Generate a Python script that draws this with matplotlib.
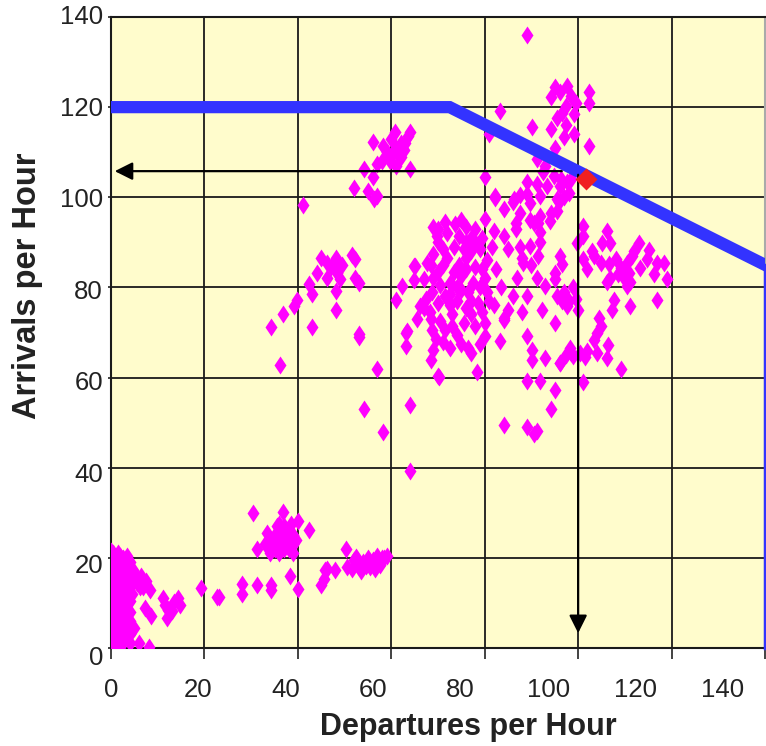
import numpy as np
import matplotlib
matplotlib.use('Agg')
import matplotlib.pyplot as plt
from matplotlib.transforms import offset_copy

plt.rcParams['font.family'] = ['Liberation Sans', 'DejaVu Sans']

# observed (departures, arrivals) per hour, grouped by cluster
corner = [(0, 1), (0, 4), (0, 7), (0, 10), (0, 13), (0, 16), (0, 19), (0, 21.5), (0.5, 2.5), (0.5, 8),
          (0.5, 12), (0.5, 18), (0.5, 21), (1, 0.5), (1, 5), (1, 9), (1, 14), (1, 17), (1, 20), (1.5, 3),
          (1.5, 11), (1.5, 15), (1.5, 21), (2, 1.5), (2, 6), (2, 9.5), (2, 13), (2, 18.5), (2.5, 4),
          (2.5, 12.5), (2.5, 20), (3, 2), (3, 7.5), (3, 15.5), (3, 17.5), (3.5, 10), (3.5, 14), (4, 1),
          (4, 16), (4.5, 12), (4.8, 17.3), (5.5, 14.5), (6, 1), (6.2, 13.5), (6.9, 13.6), (7.3, 8.8),
          (8.1, 0.3), (8.3, 12.9), (8.6, 7), (5, 4.5), (3, 3), (2, 0.2), (1, 11), (4, 19), (5.5, 15.5),
          (7.5, 14.8), (6.5, 16), (3.5, 5.5), (2.5, 8.5), (1.5, 6.5), (0.5, 15),
          (0, 2.5), (0, 5.5), (0, 8.5), (0, 11.5), (0, 14.5), (0, 17.5), (0, 20), (1, 2), (1, 3.5),
          (1, 6.5), (1, 12.5), (1, 15.5), (1, 18.5), (2, 3), (2, 4.5), (2, 7.5), (2, 11), (2, 15),
          (2, 16.5), (2, 20.5), (3, 5), (3, 9), (3, 11), (3, 13), (3, 19), (4, 3), (4, 6), (4, 8),
          (4, 10.5), (4, 13.5), (0.5, 5), (0.5, 10), (1.5, 9), (1.5, 13), (1.5, 17.5), (2.5, 14.5),
          (2.5, 17), (3.5, 2.5), (3.5, 20.5), (4.5, 15)]
bridge_low = [(11.2, 11), (12.3, 8.4), (14.4, 11), (14.8, 9.6), (11.9, 6.6), (13, 8.3), (11.5, 9.5),
              (13.5, 10.3), (19.2, 13.3), (22.6, 11.4), (23.1, 11.4), (28.1, 14.2), (28.1, 12),
              (31.2, 14), (34.2, 14), (34.2, 12.9), (38.4, 16), (40.1, 13)]
cluster_35 = [(30.3, 29.9), (36.9, 30.1), (40.1, 28.1), (42.3, 26.2), (31.2, 21.9), (33, 23), (34, 24),
              (35, 25), (36, 26), (37, 22), (38, 24), (39, 25), (36, 21), (37, 27), (38, 22), (35, 22),
              (39, 23), (34, 21), (37, 24), (38, 26), (36, 23), (39, 21), (35.5, 27), (38.5, 27.5),
              (33.5, 25.5), (34.5, 22.5), (36.5, 24.5), (37.5, 25.5), (35, 23.5), (38, 23), (39.5, 24),
              (36, 27.5)]
run_50 = [(44.9, 14), (45.6, 15.2), (46.2, 17.5), (48, 17.3), (45.9, 17.3), (50.3, 21.9), (50.5, 18),
          (51.5, 17.5), (52, 19.5), (53, 18), (54, 19), (55, 20), (55.5, 18), (56, 19.5), (57, 20.5),
          (57.5, 18.5), (58, 20), (59, 20.5), (53.5, 17), (56.5, 17.5), (54.5, 18.2), (52.5, 20.3),
          (58.4, 19.9)]
mid_left = [(45, 86.6), (46.2, 85.5), (48.2, 86.6), (51.6, 87.3), (52.3, 86.2), (44.1, 83.3), (46.2, 82.2),
            (48.3, 83.3), (49, 81.8), (52.3, 82.2), (53, 81), (48.2, 79.2), (42.3, 80.7), (43, 78.5),
            (39.8, 77.3), (39.1, 75.9), (36.9, 74.2), (34.2, 71.3), (43.1, 71.3), (48.2, 75.1), (53, 69.6),
            (36.1, 62.9), (53, 69), (56.9, 61.9), (54.2, 53.1), (58.2, 47.9), (64.1, 54), (64.1, 39.2),
            (63.1, 69.9), (63.1, 67.1), (69, 66.2), (70.1, 60.3), (65.1, 84.7), (67.6, 85.5), (64.9, 81.7),
            (67.1, 81.8), (62.3, 80.3), (61, 77.3), (63.4, 70.3), (66.9, 75.5), (69.8, 91.4), (64.8, 84.7),
            (66.2, 75.9), (65.5, 72.9), (68.4, 72.9), (47, 84.5), (49.5, 85)]
upper_60 = [(56.1, 112.2), (58.2, 111.4), (60.9, 114.4), (64.1, 114.4), (62, 112), (60.5, 110), (59.8, 108.1),
            (62.7, 110.5), (56.9, 107.3), (54.2, 106.3), (64.1, 106.3), (56.1, 104.4), (52.1, 102),
            (55.1, 101.4), (56.2, 99.6), (56.9, 100.3), (41, 98.3), (60, 113), (61, 111), (62, 109),
            (63, 112), (59, 110), (61, 107), (58, 108), (63.5, 113.5)]
core_75 = [(73.7, 94), (76, 93.5), (72, 92), (70, 90), (73.5, 89), (77, 91), (79, 88.5), (76, 86.5),
           (69, 87.5), (72, 86.5), (70, 83.5), (69, 82), (72.5, 81), (75, 82.5), (77.5, 81), (79.5, 84),
           (79, 80), (68.8, 79), (71.5, 78), (74, 77), (76.5, 79), (78.5, 76.5), (80.5, 79), (81, 77),
           (68.3, 74.5), (70.5, 72.5), (73, 74), (75.5, 72), (78, 71.5), (79.5, 74.5), (68.8, 70.5),
           (71.5, 70.5), (74, 69.5), (76.5, 66.5), (77, 65.5), (71, 68), (68.5, 63.8), (74.5, 85), (77, 88),
           (71, 85), (75, 79.5), (73, 80.5), (80, 82), (78, 90), (75, 95), (72.5, 76), (70.3, 60.2),
           (78.4, 61.2), (80.1, 69.2), (80.1, 95.1),
           (70, 93), (71.5, 94.5), (74.5, 91.5), (76, 90), (78, 93), (79.5, 91), (80.5, 86), (78, 84.5),
           (76, 84), (73.5, 83.5), (71, 88.5), (68.5, 85), (70.5, 80.5), (74, 80), (77, 77), (80, 72),
           (77, 74), (73, 71.5), (70, 76.5), (67.5, 77.5), (69.5, 68.5), (72.5, 66.5), (75, 67.5),
           (79, 67.5), (81.5, 89), (82, 92.5), (75.5, 88.5), (72.5, 78.5), (76, 75.5), (69, 93.5)]
band_90 = [(82.3, 100.3), (86.1, 99), (87.6, 100.5), (89.1, 100.7), (84.1, 97.3), (86.6, 94.4), (86.6, 92.9),
           (89.8, 95), (91.3, 94.4), (94, 94.7), (95.8, 98.9), (95.5, 97), (84.1, 91.4), (85, 88.5),
           (87.5, 88.9), (88, 86.5), (88.3, 85.5), (89.8, 89.2), (91.3, 87), (91.9, 92.2), (91.9, 90),
           (96.2, 87), (96.6, 85.1), (95.1, 83.3), (95.1, 81.8), (91.2, 82.2), (93, 80.3), (89.1, 78.2),
           (92.3, 75.1), (95.5, 78), (96.5, 77), (97.6, 75.9), (95.1, 72.2), (99.8, 89.9), (84.1, 73.3),
           (83.2, 68.1), (89.1, 69.2), (90.1, 66.2), (90.1, 64), (93, 64.4), (96.1, 63.3), (98.4, 65.5),
           (99, 64.7), (89.1, 59.2), (91.9, 59.2), (95.1, 57.3), (94.2, 53), (84.1, 49.5), (89.1, 49),
           (90.5, 47.5), (91.2, 48.2), (84.1, 72.8), (82.5, 84), (83.5, 80), (86, 78), (87, 82), (85, 75),
           (88, 74.5), (82, 76), (90, 85)]
upper_95 = [(89.1, 136), (83.2, 119.2), (95.1, 124.4), (94.1, 122.2), (96.2, 123.3), (97.6, 124.7),
            (98.4, 122.5), (97.3, 120.3), (96.6, 118.8), (95.5, 117.7), (94.1, 115.1), (96.9, 113.3),
            (99.1, 118.4), (99.1, 114), (90.1, 115.5), (80.9, 114), (102.3, 123.3), (102.3, 120.9),
            (102.3, 111.4), (80.1, 104.4), (82.3, 99.9), (86.2, 99.6), (87.6, 96.6), (89.8, 98.8),
            (89.1, 103.3), (91.2, 102.9), (91.9, 100.3), (93.4, 102.5), (94.8, 104.7), (96.2, 102.5),
            (97.6, 103.3), (98, 101), (95.5, 99.6), (94.1, 96.6), (91.9, 95.9), (90.5, 94.4), (93, 107),
            (91.2, 108.4), (97, 100), (98.4, 104), (96.4, 104), (92.5, 105.5), (95, 111), (97.5, 116),
            (99.5, 121)]
right_110 = [(101, 93.6), (101, 91.4), (101, 86.2), (106.2, 92.5), (105.1, 89.9), (106.9, 89.9), (103.3, 87),
             (104.8, 85.5), (106.6, 85.1), (108, 86.2), (109.1, 84.4), (110.5, 85.5), (111.6, 87), (113, 89.9),
             (115.1, 88.4), (114.8, 86.2), (113.3, 84.4), (110.9, 83.3), (109.8, 82.2), (106.9, 82.2),
             (106.2, 81.1), (111.2, 81.1), (116.9, 85.5), (118.3, 85.5), (116.2, 82.9), (119.1, 81.8),
             (116.9, 77.3), (111.2, 75.9), (107.6, 77.3), (107.3, 75.1), (110.5, 80.4), (97, 79), (98, 77),
             (99, 80), (100, 75), (99.5, 77.5), (104.5, 73.3), (104.8, 71.5), (104, 70), (103.5, 68.4),
             (98.3, 66.5), (100.5, 65.5), (102, 66), (104, 65.5), (106.3, 67.3), (101.5, 64.6), (97.5, 65),
             (106.2, 64.4), (109.1, 61.9), (101, 59), (96.2, 63.3), (112, 88), (108.5, 83), (102, 84),
             (103, 88)]

# capacity envelope and the highlighted operating point
envelope_dep = [0, 72.5, 140]
envelope_arr = [120, 120, 85]
point_dep, point_arr = 101.7, 104
xticks = [0, 20, 40, 60, 80, 100, 120, 140]
yticks = [0, 20, 40, 60, 80, 100, 120, 140]

pts = np.array(corner + bridge_low + cluster_35 + run_50 + mid_left + upper_60
               + core_75 + band_90 + upper_95 + right_110)

fig = plt.figure(figsize=(7.66, 7.46), dpi=100)
ax = fig.add_axes([111 / 766, 1 - 648 / 746, 654 / 766, 631 / 746])
ax.set_facecolor('#FFFCCC')
ax.set_xlim(0, 140)
ax.set_ylim(0, 140)
ax.set_xticks(xticks)
ax.set_yticks(yticks)
ax.tick_params(labelbottom=False, labelleft=False)
ax.tick_params(axis='x', direction='out', length=8, width=1.2, color='#222222')
ax.tick_params(axis='y', direction='out', length=2, width=1.2, color='#222222')
ax.grid(True, color='#1a1a1a', lw=1.3)
ax.set_axisbelow(True)
for side in ['left', 'bottom', 'top']:
    ax.spines[side].set_color('#1a1a1a')
    ax.spines[side].set_linewidth(1.5)
ax.spines['right'].set_color('#aaaaaa')
ax.spines['right'].set_linewidth(1.5)

ax.plot(pts[:, 0], pts[:, 1], 'd', color='#FF00FF', ms=9.5, mec='none', zorder=3)

ax.plot(envelope_dep, envelope_arr, color='#3333FF', lw=8.8, solid_joinstyle='miter', zorder=4)
ax.plot([envelope_dep[-1], envelope_dep[-1]], [0, envelope_arr[-1]], color='#3333FF', lw=2.5,
        clip_on=False, zorder=4)

arrow = dict(arrowstyle='-|>', color='black', lw=1.6, mutation_scale=27, shrinkA=0, shrinkB=0)
ax.annotate('', xy=(0.8, 105.8), xytext=(96.5, 105.8), arrowprops=arrow, zorder=5)
ax.annotate('', xy=(100, 3.3), xytext=(100, 105), arrowprops=arrow, zorder=5)

ax.plot(point_dep, point_arr, 'D', color='#F02020', ms=11, mec='none', zorder=6)

# tick labels, spaced slightly differently from the grid as in the original
xtr = ax.get_xaxis_transform()
for t in xticks:
    tr = offset_copy(xtr, fig=fig, x=-t * 0.3, y=-42, units='dots')
    ax.text(t, 0, str(t), transform=tr, ha='center', va='center', fontsize=18.5, color='#222222')
ytr = ax.get_yaxis_transform()
for t in yticks:
    tr = offset_copy(ytr, fig=fig, x=-8, y=-(140 - t) * 0.0714, units='dots')
    ax.text(0, t, str(t), transform=tr, ha='right', va='center', fontsize=18.5, color='#222222')

fig.text(468 / 766, 1 - 727 / 746, 'Departures per Hour', ha='center', va='center',
         fontsize=22, fontweight='bold', color='#222222')
fig.text(28 / 766, 1 - 286 / 746, 'Arrivals per Hour', ha='center', va='center', rotation=90,
         fontsize=23.5, fontweight='bold', color='#222222')

fig.savefig('out.png', dpi=100, facecolor='white')
